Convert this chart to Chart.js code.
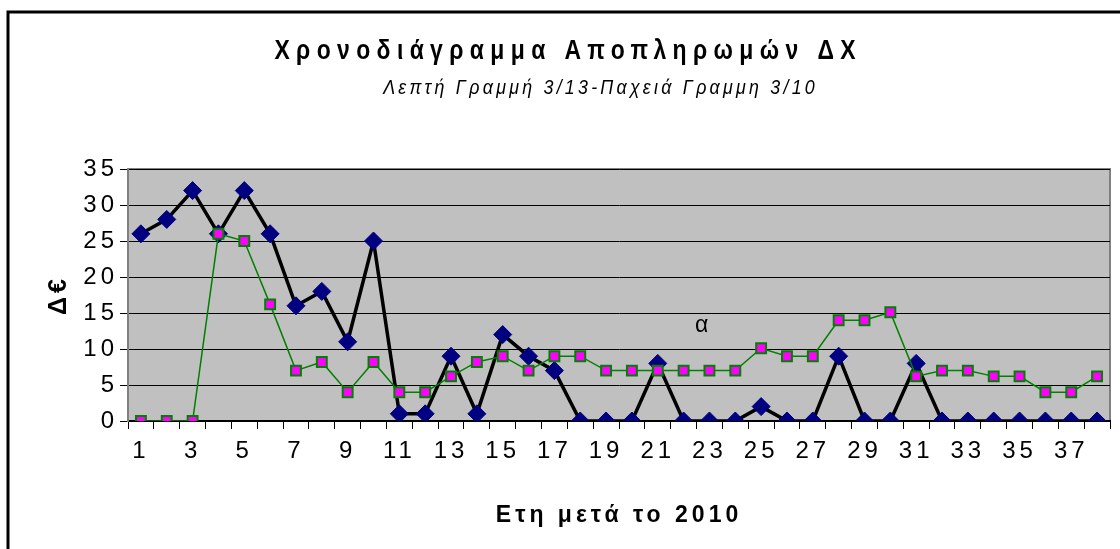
<!DOCTYPE html>
<html>
<head>
<meta charset="utf-8">
<title>Χρονοδιάγραμμα Αποπληρωμών ΔΧ</title>
<script src="https://cdn.jsdelivr.net/npm/chart.js@4/dist/chart.umd.min.js"></script>
<style>
    html, body { margin: 0; padding: 0; background: #fff; overflow: hidden; }
    #wrap { width: 1120px; height: 549px; position: relative; }
</style>
</head>
<body>
<div id="wrap"><canvas id="scheduleChart"></canvas></div>
<script>
// Chart data
const years = ['1','2','3','4','5','6','7','8','9','10','11','12','13','14','15','16','17','18','19',
    '20','21','22','23','24','25','26','27','28','29','30','31','32','33','34','35','36','37','38'];
// Παχειά γραμμή 3/10 (black, diamonds)
const thickLine = [26, 28, 32, 26, 32, 26, 16, 18, 11, 25, 1, 1, 9, 1, 12, 9, 7, 0, 0,
    0, 8, 0, 0, 0, 2, 0, 0, 9, 0, 0, 8, 0, 0, 0, 0, 0, 0, 0];
// Λεπτή γραμμή 3/13 (green, squares)
const thinLine = [0, 0, 0, 26, 25, 16.2, 7, 8.2, 4, 8.2, 4, 4, 6.2, 8.2, 9, 7, 9, 9, 7,
    7, 7, 7, 7, 7, 10.1, 9, 9, 14, 14, 15.1, 6.2, 7, 7, 6.2, 6.2, 4, 4, 6.2];
const yTicks = [0, 5, 10, 15, 20, 25, 30, 35];
const titleText = 'Χρονοδιάγραμμα Αποπληρωμών ΔΧ';
const subtitleText = 'Λεπτή Γραμμή 3/13-Παχειά Γραμμη 3/10';
const xTitle = 'Ετη μετά το 2010';
const yTitle = 'Δ€';
// stray label inside the plot: [category index, value, text]
const noteLabel = [21.7, 13.3, 'α'];

const FONT = "'Liberation Sans', Arial, sans-serif";

// draws narrowed, letter-spaced text centred on (x, y)
function narrowText(ctx, text, x, y, font, spacing, squeeze) {
    ctx.save();
    ctx.translate(x, y);
    ctx.scale(squeeze, 1);
    ctx.font = font;
    ctx.letterSpacing = spacing + 'px';
    ctx.textAlign = 'center';
    ctx.textBaseline = 'middle';
    ctx.fillText(text, spacing / 2, 0);
    ctx.restore();
}

// Gray plot background, frame and the outer border
const framePlugin = {
    id: 'frame',
    beforeDraw(chart) {
        const ctx = chart.ctx;
        const a = chart.chartArea;
        ctx.save();
        ctx.fillStyle = '#c0c0c0';
        ctx.fillRect(a.left, a.top, a.right - a.left, a.bottom - a.top);
        ctx.strokeStyle = '#808080';
        ctx.lineWidth = 2;
        ctx.beginPath();
        ctx.moveTo(a.left, a.top);
        ctx.lineTo(a.right, a.top);
        ctx.lineTo(a.right, a.bottom);
        ctx.stroke();
        ctx.restore();
        // spaced lettering for the axis text
        ctx.letterSpacing = '4px';
    },
    afterDatasetsDraw(chart) {
        const ctx = chart.ctx;
        const x = chart.scales.x.getPixelForValue(noteLabel[0]);
        const y = chart.scales.y.getPixelForValue(noteLabel[1]);
        ctx.save();
        ctx.letterSpacing = '0px';
        ctx.fillStyle = '#000';
        ctx.font = '23px ' + FONT;
        ctx.textAlign = 'center';
        ctx.textBaseline = 'middle';
        ctx.fillText(noteLabel[2], x, y);
        ctx.restore();
    },
    afterDraw(chart) {
        const ctx = chart.ctx;
        ctx.save();
        ctx.fillStyle = '#000';
        narrowText(ctx, titleText, 565, 52, 'bold 27px ' + FONT, 7.5, 0.85);
        narrowText(ctx, subtitleText, 599, 88, 'italic 21px ' + FONT, 3.8, 0.85);
        // outer border (left and top edges)
        ctx.strokeStyle = '#000';
        ctx.lineWidth = 3;
        ctx.beginPath();
        ctx.moveTo(8, 549);
        ctx.lineTo(8, 12);
        ctx.lineTo(1120, 12);
        ctx.stroke();
        ctx.restore();
        ctx.letterSpacing = '0px';
    }
};

const ctx = document.getElementById('scheduleChart').getContext('2d');
new Chart(ctx, {
    type: 'line',
    data: {
        labels: years,
        datasets: [{
            label: 'Παχειά Γραμμη 3/10',
            data: thickLine,
            borderColor: '#000000',
            borderWidth: 3.5,
            tension: 0,
            pointStyle: 'rectRot',
            pointRadius: 9,
            pointBackgroundColor: '#000080',
            pointBorderColor: '#000080',
            pointBorderWidth: 1,
            order: 1
        }, {
            label: 'Λεπτή Γραμμή 3/13',
            data: thinLine,
            borderColor: '#008000',
            borderWidth: 1.5,
            tension: 0,
            pointStyle: 'rect',
            pointRadius: 7,
            pointBackgroundColor: '#ff00ff',
            pointBorderColor: '#008000',
            pointBorderWidth: 2,
            order: 0
        }]
    },
    options: {
        responsive: true,
        maintainAspectRatio: false,
        animation: false,
        layout: {
            padding: { top: 169, left: 0, right: 3, bottom: 0 }
        },
        plugins: {
            legend: { display: false },
            tooltip: { enabled: false }
        },
        scales: {
            x: {
                type: 'category',
                offset: true,
                afterFit(scale) { scale.height = 128; },
                grid: {
                    offset: true,
                    drawOnChartArea: false,
                    drawTicks: true,
                    tickLength: 8,
                    tickColor: '#000'
                },
                border: { color: '#000', width: 2 },
                ticks: {
                    autoSkip: false,
                    maxRotation: 0,
                    padding: 8,
                    color: '#000',
                    font: { family: FONT, size: 24 },
                    callback(value, index) {
                        return index % 2 === 0 ? years[index] : '';
                    }
                },
                title: {
                    display: true,
                    text: xTitle,
                    color: '#000',
                    font: { family: FONT, size: 23, weight: 'bold' },
                    padding: { top: 0, bottom: 20 }
                }
            },
            y: {
                min: 0,
                max: 35,
                afterFit(scale) { scale.width = 128; },
                afterBuildTicks(scale) {
                    scale.ticks = yTicks.map(v => ({ value: v }));
                },
                grid: {
                    color: '#000',
                    lineWidth: 1,
                    tickLength: 8,
                    tickColor: '#000'
                },
                border: { color: '#808080', width: 2 },
                ticks: {
                    padding: 2,
                    color: '#000',
                    font: { family: FONT, size: 24 }
                },
                title: {
                    display: true,
                    text: yTitle,
                    color: '#000',
                    font: { family: FONT, size: 25, weight: 'bold' },
                    padding: { top: 44, bottom: 0 }
                }
            }
        }
    },
    plugins: [framePlugin]
});
</script>
</body>
</html>
